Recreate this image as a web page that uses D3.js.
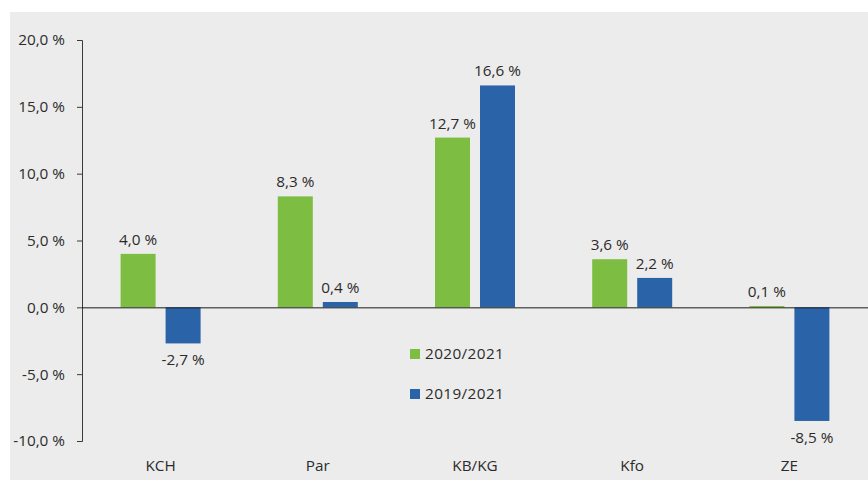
<!DOCTYPE html>
<html><head><meta charset="utf-8">
<script src="https://cdn.jsdelivr.net/npm/d3@7"></script>
<style>body{margin:0;background:#fff}svg{display:block}</style>
</head><body>
<svg id="c" width="868" height="482"></svg>
<script>
const categories = ["KCH","Par","KB/KG","Kfo","ZE"];
const series2020 = [4.0, 8.3, 12.7, 3.6, 0.1];
const series2019 = [-2.7, 0.4, 16.6, 2.2, -8.5];
const seriesNames = ["2020/2021","2019/2021"];
const yTicks = [-10,-5,0,5,10,15,20];
const colors = ["#7dbe42","#2a63a8"];

const svg = d3.select("#c");
const font = "'Open Sans', 'Noto Sans', sans-serif";
const fs = 15.3;
const txt = "#2b2b2b";
svg.append("rect").attr("x",10).attr("y",12).attr("width",858).attr("height",468).attr("fill","#ececec");

const x = d3.scaleBand().domain(categories).range([82,868]);
const y = d3.scaleLinear().domain([-10,20]).range([441,40]);
const fmt = v => d3.format(".1f")(v).replace(".",",").replace("−","-") + " %";

const yAxis = d3.axisLeft(y).tickValues(yTicks).tickSize(5).tickFormat(fmt);
const ga = svg.append("g").attr("transform","translate(82,0)").call(yAxis);
ga.select(".domain").attr("stroke","#3a3a3a").attr("d","M-5,40.5H0.5V441.5H-5");
ga.selectAll(".tick line").attr("stroke","#3a3a3a");
ga.selectAll(".tick text").attr("x",-17).attr("font-family",font).attr("font-size",fs).attr("fill",txt);

const data = categories.map((c,i)=>({c, vals:[series2020[i], series2019[i]]}));
const bw = 35;
const offs = [-40, 5];
data.forEach(d=>{
  d.vals.forEach((v,j)=>{
    const cx = x(d.c) + x.bandwidth()/2;
    const x0 = cx + offs[j];
    svg.append("rect").attr("x",x0).attr("width",bw)
      .attr("y",Math.min(y(v),y(0))).attr("height",Math.max(Math.abs(y(v)-y(0)),1))
      .attr("fill",colors[j]);
    svg.append("text").attr("x",x0+bw/2)
      .attr("y", v>=0 ? y(v)-9 : y(v)+22)
      .attr("text-anchor","middle").attr("font-family",font).attr("font-size",fs).attr("fill",txt)
      .text(fmt(v));
  });
});
svg.append("line").attr("x1",82).attr("x2",868).attr("y1",y(0)+0.5).attr("y2",y(0)+0.5).attr("stroke","#1a1a1a").attr("stroke-width",1);

categories.forEach(c=>{
  svg.append("text").attr("x",x(c)+x.bandwidth()/2).attr("y",471).attr("text-anchor","middle")
    .attr("font-family",font).attr("font-size",fs).attr("fill",txt).text(c);
});

seriesNames.forEach((n,i)=>{
  const ly = 349 + i*40;
  svg.append("rect").attr("x",410).attr("y",ly).attr("width",10).attr("height",10).attr("fill",colors[i]);
  svg.append("text").attr("x",425).attr("y",ly+10).attr("font-family",font).attr("font-size",fs).attr("letter-spacing",0.4).attr("fill",txt).text(n);
});
</script>
</body></html>
